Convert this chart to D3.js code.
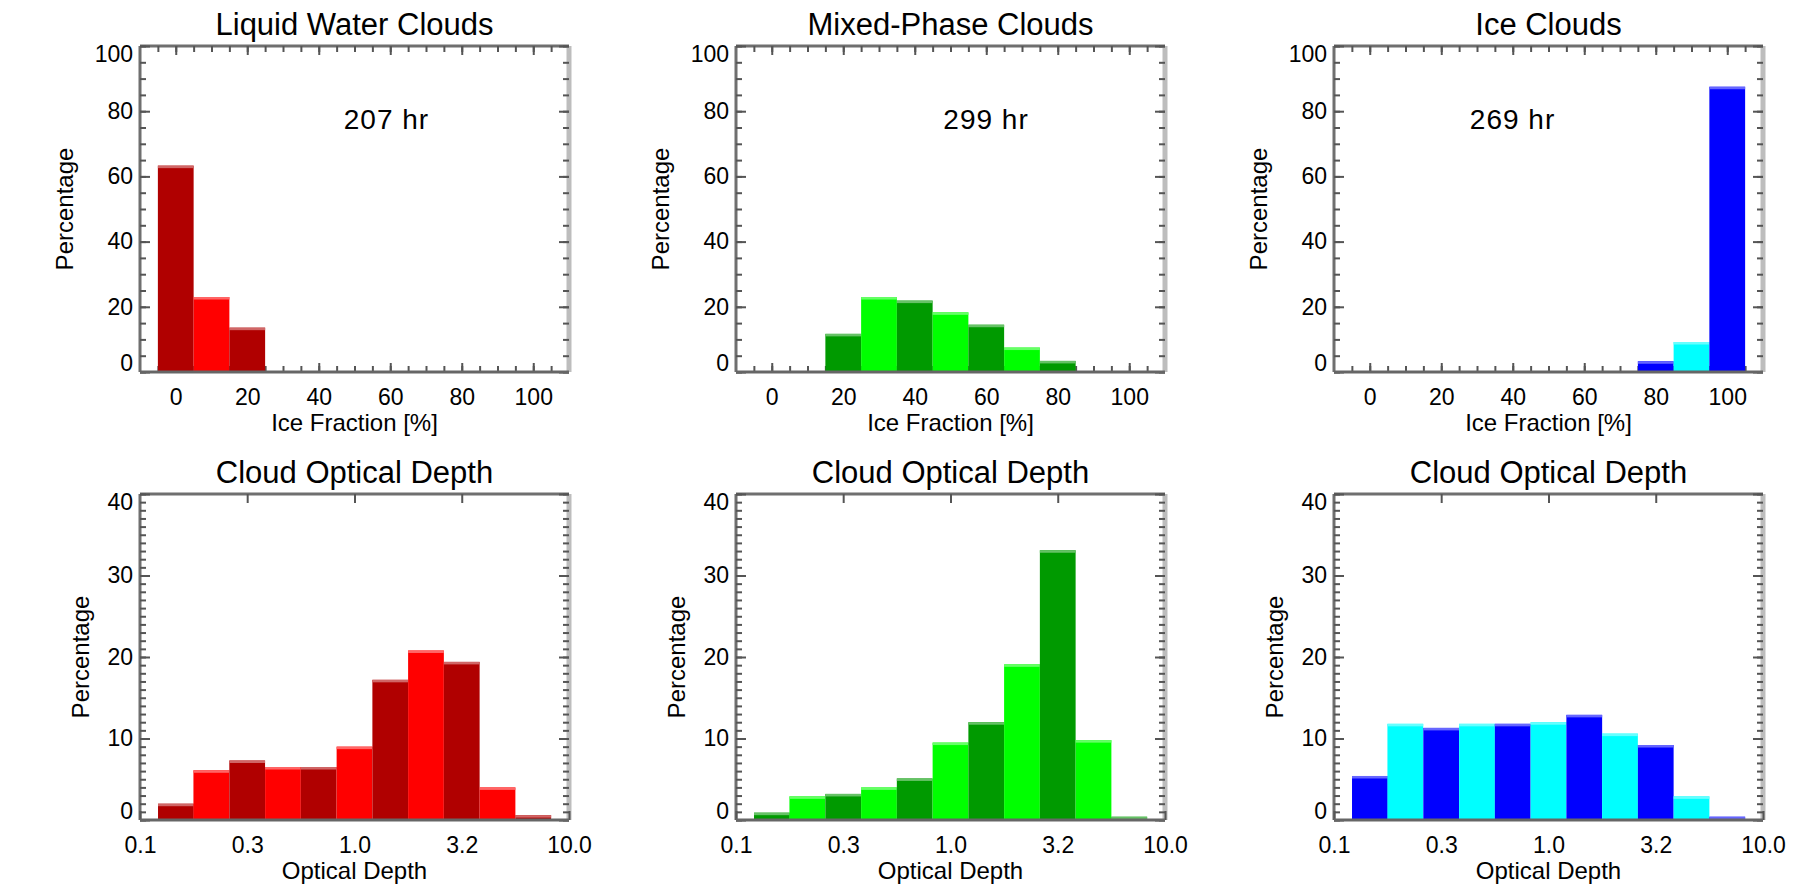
<!DOCTYPE html>
<html>
<head>
<meta charset="utf-8">
<script src="https://cdn.jsdelivr.net/npm/d3@7"></script>
<style>
body { margin:0; background:#fff; }
text { font-family: "Liberation Sans", Arial, Helvetica, sans-serif; fill:#000; }
</style>
</head>
<body>
<div id="chart"></div>
<script>
// ice fraction histograms (bin centres in %)
var iceBins = [0, 10, 20, 30, 40, 50, 60, 70, 80, 90, 100];
var liquidIce = [63.3, 23.0, 13.6, 0, 0, 0, 0, 0, 0, 0, 0];
var mixedIce = [0, 0, 11.7, 23.0, 21.9, 18.3, 14.5, 7.5, 3.4, 0, 0];
var iceIce = [0, 0, 0, 0, 0, 0, 0, 0, 3.3, 9.2, 87.5];

// optical depth histograms (bin centres, log spaced, 1/6 decade wide)
var odBins = [0.147, 0.215, 0.316, 0.464, 0.681, 1.0, 1.468, 2.154, 3.162, 4.642, 6.813];
var liquidOD = [2.0, 6.1, 7.3, 6.5, 6.5, 9.0, 17.2, 20.8, 19.4, 4.0, 0.6];
var mixedOD = [0.9, 2.9, 3.2, 4.0, 5.1, 9.5, 12.0, 19.1, 33.1, 9.8, 0.4];
var iceOD = [5.4, 11.8, 11.3, 11.8, 11.8, 12.0, 12.9, 10.6, 9.2, 2.9, 0.4];

var iceTicks = [0, 20, 40, 60, 80, 100];
var pctTicks = [0, 20, 40, 60, 80, 100];
var odTicks = [0.1, 0.316, 1, 3.162, 10];
var odTickLabels = ["0.1", "0.3", "1.0", "3.2", "10.0"];
var odPctTicks = [0, 10, 20, 30, 40];

var titles = ["Liquid Water Clouds", "Mixed-Phase Clouds", "Ice Clouds"];
var hours = ["207 hr", "299 hr", "269 hr"];

var W = 1803, H = 887;
var colLeft = [140, 736, 1334], rowTop = [46, 494];
var pw = 429, ph = 326;

var palettes = [["#b00000", "#ff0000"], ["#009a00", "#00ff00"], ["#0000ff", "#00ffff"]];

var svg = d3.select("#chart")
  .append("svg")
    .attr("width", W)
    .attr("height", H);
svg.append("rect").attr("width", W).attr("height", H).attr("fill", "#fff");

function range(a, b, s) {
  var out = [];
  for (var v = a; v <= b + 1e-9; v += s) out.push(+v.toFixed(3));
  return out;
}

function styleTicks(g) {
  g.select(".domain").remove();
  g.selectAll(".tick line").attr("stroke", "#555").attr("stroke-width", 2);
  g.selectAll(".tick text").style("font-size", "23px").attr("fill", "#000");
}

function drawPanel(col, row, cfg) {
  var g = svg.append("g")
    .attr("transform", "translate(" + colLeft[col] + "," + rowTop[row] + ")");
  var x = cfg.x, y = cfg.y;

  // frame (left, top, right)
  g.append("line").attr("x1", 0).attr("x2", 0).attr("y1", 0).attr("y2", ph)
    .attr("stroke", "#6f6f6f").attr("stroke-width", 3);
  g.append("line").attr("x1", 0).attr("x2", pw).attr("y1", 0).attr("y2", 0)
    .attr("stroke", "#6f6f6f").attr("stroke-width", 3);
  g.append("line").attr("x1", pw).attr("x2", pw).attr("y1", 0).attr("y2", ph)
    .attr("stroke", "#bdbdbd").attr("stroke-width", 5);

  // minor ticks
  g.append("g").attr("transform", "translate(0," + ph + ")")
    .call(d3.axisBottom(x).tickValues(cfg.xMinor).tickSizeInner(-6).tickSizeOuter(0).tickFormat(""))
    .call(styleTicks);
  g.append("g")
    .call(d3.axisTop(x).tickValues(cfg.xTopMinor).tickSizeInner(-6).tickSizeOuter(0).tickFormat(""))
    .call(styleTicks);
  g.append("g")
    .call(d3.axisLeft(y).tickValues(cfg.yMinor).tickSizeInner(-6).tickSizeOuter(0).tickFormat(""))
    .call(styleTicks);
  g.append("g").attr("transform", "translate(" + pw + ",0)")
    .call(d3.axisRight(y).tickValues(cfg.yMinor).tickSizeInner(-6).tickSizeOuter(0).tickFormat(""))
    .call(styleTicks);

  // major ticks + labels
  g.append("g").attr("transform", "translate(0," + ph + ")")
    .call(d3.axisBottom(x).tickValues(cfg.xMajor).tickSizeInner(-9).tickSizeOuter(0)
      .tickPadding(17).tickFormat(cfg.xFormat))
    .call(styleTicks);
  g.append("g")
    .call(d3.axisTop(x).tickValues(cfg.xTopMajor).tickSizeInner(-9).tickSizeOuter(0).tickFormat(""))
    .call(styleTicks);
  var yAxis = g.append("g")
    .call(d3.axisLeft(y).tickValues(cfg.yMajor).tickSizeInner(-10).tickSizeOuter(0).tickPadding(7))
    .call(styleTicks);
  var ymax = y.domain()[1];
  yAxis.selectAll(".tick text")
    .attr("y", function(d) { return d === ymax ? 8 : (d === 0 ? -9 : 0); });
  g.append("g").attr("transform", "translate(" + pw + ",0)")
    .call(d3.axisRight(y).tickValues(cfg.yMajor).tickSizeInner(-10).tickSizeOuter(0).tickFormat(""))
    .call(styleTicks);

  // bars
  var bars = cfg.bins.map(function(b, i) {
    return {lo: cfg.lo(b), hi: cfg.hi(b), value: cfg.values[i], color: palettes[col][i % 2]};
  }).filter(function(d) { return d.value > 0; });

  var u = g.selectAll("g.bar").data(bars).enter().append("g").attr("class", "bar");
  u.append("rect")
    .attr("x", function(d) { return x(d.lo); })
    .attr("y", function(d) { return y(d.value); })
    .attr("width", function(d) { return x(d.hi) - x(d.lo); })
    .attr("height", function(d) { return y(0) - y(d.value); })
    .attr("fill", function(d) { return d.color; });
  u.append("rect")
    .attr("x", function(d) { return x(d.lo); })
    .attr("y", function(d) { return y(d.value); })
    .attr("width", function(d) { return x(d.hi) - x(d.lo); })
    .attr("height", function(d) { return Math.min(2.5, y(0) - y(d.value)); })
    .attr("fill", function(d) { return d3.interpolateRgb(d.color, "#fff")(0.4); });

  // bottom frame line on top of bars
  g.append("line").attr("x1", 0).attr("x2", pw).attr("y1", ph).attr("y2", ph)
    .attr("stroke", "#666").attr("stroke-width", 3);

  // titles
  g.append("text")
    .attr("x", pw / 2).attr("y", -11)
    .attr("text-anchor", "middle")
    .style("font-size", "31px")
    .text(cfg.title);
  g.append("text")
    .attr("x", pw / 2).attr("y", ph + 59)
    .attr("text-anchor", "middle")
    .style("font-size", "24px")
    .text(cfg.xTitle);
  g.append("text")
    .attr("transform", "translate(" + cfg.yTitleX + "," + (ph / 2) + ") rotate(-90)")
    .attr("text-anchor", "middle")
    .style("font-size", "24px")
    .text("Percentage");

  if (cfg.note) {
    g.append("text")
      .attr("x", x(cfg.note.x)).attr("y", y(cfg.note.y))
      .style("font-size", "28px")
      .style("letter-spacing", "1px")
      .text(cfg.note.text);
  }
}

var iceValues = [liquidIce, mixedIce, iceIce];
var odValues = [liquidOD, mixedOD, iceOD];
var noteX = [47, 48, 28];
var halfBin = Math.pow(10, 1 / 12);

for (var c = 0; c < 3; c++) {
  drawPanel(c, 0, {
    x: d3.scaleLinear().domain([-10, 110]).range([0, pw]),
    y: d3.scaleLinear().domain([0, 100]).range([ph, 0]),
    xMajor: iceTicks, xMinor: range(-5, 105, 5), xTopMajor: iceTicks, xTopMinor: range(-5, 105, 5),
    yMajor: pctTicks, yMinor: range(0, 100, 5),
    xFormat: d3.format("d"),
    bins: iceBins, values: iceValues[c],
    lo: function(b) { return b - 5; }, hi: function(b) { return b + 5; },
    title: titles[c], xTitle: "Ice Fraction [%]", yTitleX: -67,
    note: {x: noteX[c], y: 74.5, text: hours[c]}
  });
  drawPanel(c, 1, {
    x: d3.scaleLog().domain([0.1, 10]).range([0, pw]),
    y: d3.scaleLinear().domain([0, 40]).range([ph, 0]),
    xMajor: odTicks, xMinor: [], xTopMajor: odTicks.slice(1, 4), xTopMinor: [],
    yMajor: odPctTicks, yMinor: range(0, 40, 1),
    xFormat: function(d, i) { return odTickLabels[i]; },
    bins: odBins, values: odValues[c],
    lo: function(b) { return b / halfBin; }, hi: function(b) { return b * halfBin; },
    title: "Cloud Optical Depth", xTitle: "Optical Depth", yTitleX: -51,
    note: null
  });
}
</script>
</body>
</html>
